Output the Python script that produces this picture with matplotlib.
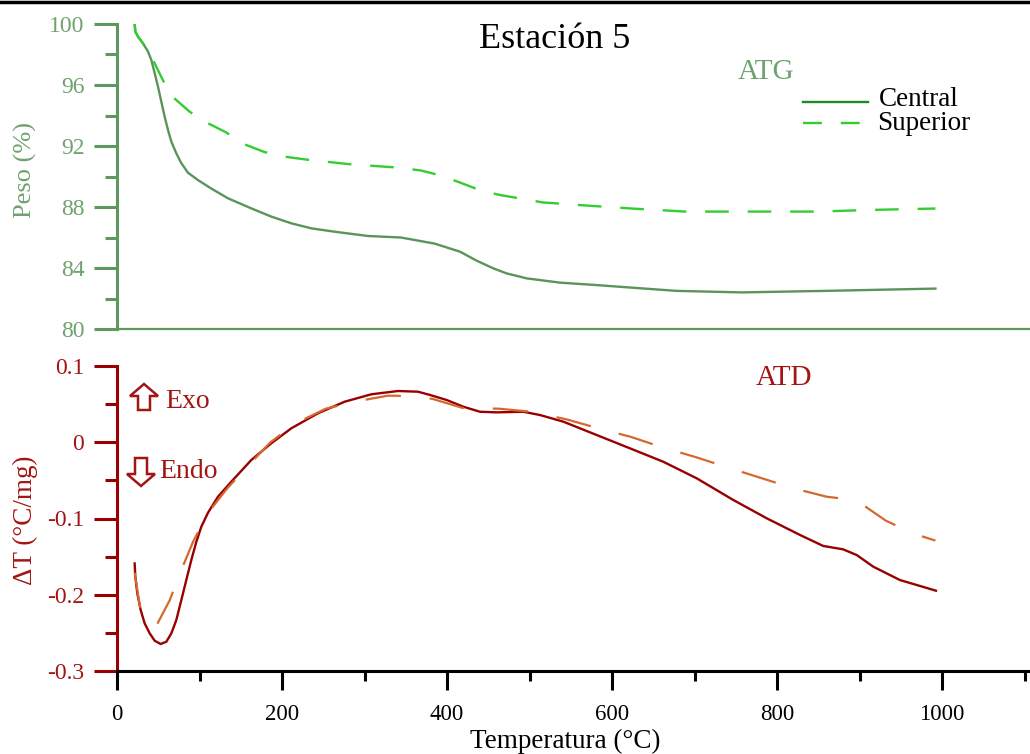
import matplotlib
matplotlib.use("Agg")
import matplotlib.pyplot as plt
from matplotlib.lines import Line2D
from matplotlib.patches import Polygon
from matplotlib.transforms import IdentityTransform
from matplotlib.ticker import MultipleLocator

plt.rcParams['font.family'] = ['Liberation Serif', 'DejaVu Serif']

# ATG (peso %) vs temperatura
atg_central_t = [21.4, 22.2, 25.5, 31.5, 37.6, 41.6, 45.7, 49.7, 53.7, 57.8, 61.8, 65.9,
                 71.9, 78, 86, 98, 114, 134.5, 162.8, 187, 211.3, 235.5, 263.8, 304, 344,
                 385, 415.8, 436, 456, 472, 496.6, 537, 576, 678, 758, 859, 992]
atg_central_v = [100, 99.5, 99.17, 98.73, 98.19, 97.64, 96.77, 95.89, 94.91, 93.92, 93.05,
                 92.28, 91.52, 90.87, 90.25, 89.77, 89.22, 88.57, 87.91, 87.37, 86.93,
                 86.6, 86.38, 86.1, 86.0, 85.6, 85.07, 84.48, 83.98, 83.65, 83.32, 83.04,
                 82.9, 82.5, 82.4, 82.5, 82.65]

atg_sup_t = [21.4, 22.2, 25.5, 31.5, 43.6, 55.8, 67.9, 88, 110, 132, 155, 179, 203, 231,
             283, 336, 368, 390, 416, 440, 463, 516, 568, 624, 689, 778, 851, 907, 992]
atg_sup_v = [100, 99.5, 99.17, 98.73, 97.64, 96.3, 95.2, 94.25, 93.5, 92.9, 92.1, 91.6,
             91.3, 91.1, 90.8, 90.6, 90.4, 90.1, 89.6, 89.1, 88.8, 88.3, 88.1, 87.9, 87.7,
             87.7, 87.7, 87.8, 87.9]

# ATD (deltaT) vs temperatura
atd_central_t = [21.4, 22.2, 24.6, 28.7, 33.5, 39.6, 45.7, 52.9, 59.8, 65.9, 71.9, 78, 84,
                 90.1, 96.2, 102.2, 110.3, 122.4, 138.6, 162.8, 187, 211.3, 243.6, 276,
                 308.3, 340.6, 364.8, 379.4, 399.6, 419.8, 440, 460, 492.5, 512.7, 541,
                 581.4, 621.8, 662, 702.7, 747, 787.5, 827.9, 856, 880, 896.6, 916.7, 949,
                 992.7]
atd_central_v = [-0.159, -0.176, -0.198, -0.220, -0.2375, -0.2506, -0.2603, -0.2646,
                 -0.2616, -0.2506, -0.2331, -0.2069, -0.1807, -0.1544, -0.1304, -0.1108,
                 -0.0924, -0.0714, -0.0517, -0.0233, -0.0014, 0.0183, 0.038, 0.0532,
                 0.0629, 0.0672, 0.0663, 0.062, 0.0554, 0.0466, 0.040, 0.0392, 0.040,
                 0.0357, 0.027, 0.0095, -0.008, -0.0255, -0.0473, -0.0757, -0.0997,
                 -0.1216, -0.136, -0.1404, -0.1479, -0.1632, -0.1807, -0.1947]

atd_sup_t = [21.4, 28, 37, 47, 64, 77, 92, 110, 134, 158, 186, 217, 253, 292, 328, 340,
             382, 419, 463, 502, 545, 581, 623, 659, 703, 740, 781, 820, 860, 880, 898.6,
             932, 966, 992]
atd_sup_v = [-0.171, -0.217, -0.235, -0.242, -0.207, -0.170, -0.131, -0.093, -0.060,
             -0.032, 0.000, 0.025, 0.044, 0.054, 0.061, 0.061, 0.057, 0.045, 0.044, 0.040,
             0.030, 0.019, 0.007, -0.006, -0.020, -0.033, -0.047, -0.0604, -0.0714,
             -0.074, -0.078, -0.1029, -0.120, -0.129]

atg_ticks = [80, 84, 88, 92, 96, 100]
atd_ticks = [-0.3, -0.2, -0.1, 0, 0.1]
atd_labels = ['-0.3', '-0.2', '-0.1', '0', '0.1']
temp_ticks = [0, 200, 400, 600, 800, 1000]

GREEN_AX = '#5f985f'
GREEN_TXT = '#6fa26f'
GREEN_LINE = '#5b945b'
GREEN_SUP = '#33cc33'
GREEN_LEG = '#1f8a1f'
RED_AX = '#9b0000'
RED_TXT = '#a31515'
RED_LINE = '#990000'
ORANGE = '#d4692f'

W, H = 1030, 754
fig = plt.figure(figsize=(W / 100, H / 100), dpi=100)
x0 = 117 / W
ax1 = fig.add_axes([x0, 1 - 329 / H, 1 - x0, 305 / H])
ax2 = fig.add_axes([x0, 1 - 671 / H, 1 - x0, 305 / H])

xmax = (W - 117) / 0.825

# top panel
ax1.plot(atg_central_t, atg_central_v, color=GREEN_LINE, lw=1.7)
ax1.plot(atg_sup_t, atg_sup_v, color=GREEN_SUP, lw=1.7, dashes=(10, 8))
ax1.set_xlim(0, xmax)
ax1.set_ylim(80, 100)
for s in ['top', 'right']:
    ax1.spines[s].set_visible(False)
ax1.spines['left'].set_color(GREEN_AX)
ax1.spines['left'].set_linewidth(2.2)
ax1.spines['bottom'].set_color(GREEN_AX)
ax1.spines['bottom'].set_linewidth(1.6)
ax1.set_xticks([])
ax1.set_yticks(atg_ticks)
ax1.yaxis.set_minor_locator(MultipleLocator(2))
ax1.tick_params(axis='y', which='major', length=16.5, width=2.2, color=GREEN_AX,
                labelcolor=GREEN_TXT, labelsize=17, pad=7)
ax1.tick_params(axis='y', which='minor', length=8.5, width=2.2, color=GREEN_AX)
ax1.patch.set_visible(False)

# bottom panel
ax2.plot(atd_central_t, atd_central_v, color=RED_LINE, lw=1.7)
ax2.plot(atd_sup_t, atd_sup_v, color=ORANGE, lw=1.6, dashes=(16, 13))
ax2.set_xlim(0, xmax)
ax2.set_ylim(-0.3, 0.1)
for s in ['top', 'right']:
    ax2.spines[s].set_visible(False)
ax2.spines['left'].set_color(RED_AX)
ax2.spines['left'].set_linewidth(2.2)
ax2.spines['bottom'].set_color('black')
ax2.spines['bottom'].set_linewidth(2.2)
ax2.set_yticks(atd_ticks)
ax2.set_yticklabels(atd_labels)
ax2.yaxis.set_minor_locator(MultipleLocator(0.05))
ax2.tick_params(axis='y', which='major', length=16.5, width=2.2, color=RED_AX,
                labelcolor=RED_TXT, labelsize=17, pad=7)
ax2.tick_params(axis='y', which='minor', length=8.5, width=2.2, color=RED_AX)
ax2.set_xticks(temp_ticks)
ax2.xaxis.set_minor_locator(MultipleLocator(100))
ax2.tick_params(axis='x', which='major', length=14, width=2.2, color='black',
                labelsize=16.5, pad=10)
ax2.tick_params(axis='x', which='minor', length=7, width=2.2, color='black')
ax2.patch.set_visible(False)

# labels
fig.text(25 / W, 1 - 170 / H, 'Peso (%)', rotation=90, ha='center', va='center',
         color=GREEN_TXT, fontsize=19)
fig.text(25 / W, 1 - 520 / H, 'ΔT (°C/mg)', rotation=90, ha='center', va='center',
         color=RED_TXT, fontsize=19.5)
fig.text(565 / W, 1 - 741 / H, 'Temperatura (°C)', ha='center', va='center', fontsize=19.5)
fig.text(555 / W, 1 - 40 / H, 'Estación 5', ha='center', va='center', fontsize=26)
fig.text(766 / W, 1 - 72 / H, 'ATG', ha='center', va='center', color=GREEN_TXT, fontsize=21)
fig.text(784 / W, 1 - 378 / H, 'ATD', ha='center', va='center', color=RED_TXT, fontsize=21)

# legend (drawn by hand)
fig.add_artist(Line2D([803 / W, 868 / W], [1 - 102 / H] * 2, color=GREEN_LEG, lw=1.7))
fig.add_artist(Line2D([803 / W, 868 / W], [1 - 123 / H] * 2, color=GREEN_SUP, lw=1.7,
                      dashes=(8, 8)))
fig.text(879 / W, 1 - 100 / H, 'Central', ha='left', va='center', fontsize=19.5)
fig.text(877 / W, 1 - 123 / H, 'Superior', ha='left', va='center', fontsize=19.5)


# exo / endo hollow arrows (pixel outlines)
def hollow_arrow(cx, tip_y, base_y, up=True):
    d = 1 if up else -1
    head_y = tip_y + d * 12
    pts = [(cx, tip_y), (cx + 14, head_y), (cx + 6, head_y), (cx + 6, base_y),
           (cx - 6, base_y), (cx - 6, head_y), (cx - 14, head_y)]
    pts = [(px, H - py) for px, py in pts]
    fig.add_artist(Polygon(pts, closed=True, facecolor='white', edgecolor=RED_TXT,
                           lw=1.8, transform=IdentityTransform()))


hollow_arrow(144, 384, 410, up=True)
hollow_arrow(141, 486, 458, up=False)
fig.text(165 / W, 1 - 401 / H, 'Exo', ha='left', va='center', color=RED_TXT, fontsize=20)
fig.text(159 / W, 1 - 472 / H, 'Endo', ha='left', va='center', color=RED_TXT, fontsize=20)

# top frame line
fig.add_artist(Line2D([0, 1], [1 - 1.5 / H] * 2, color='black', lw=2.5))

fig.savefig('out.png', dpi=100)
